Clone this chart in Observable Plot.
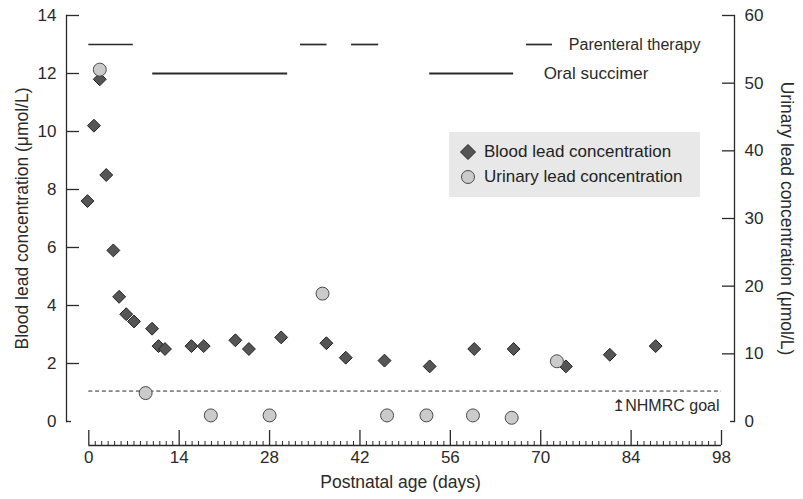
<!DOCTYPE html>
<html><head><meta charset="utf-8">
<script src="https://cdn.jsdelivr.net/npm/d3@7"></script>
<script src="https://cdn.jsdelivr.net/npm/@observablehq/plot@0.6"></script>
<style>
body{margin:0;background:#fff;font-family:"Liberation Sans",Arial,Helvetica,sans-serif;}
#wrap{position:relative;width:803px;height:499px;}
#legend{position:absolute;left:449px;top:132px;width:251px;height:65px;background:#e8e8e8;font-size:17px;color:#222;}
#legend .row{position:absolute;left:10px;height:20px;display:flex;align-items:center;white-space:nowrap;}
#legend svg{margin-right:7px;}
</style></head><body><div id="wrap"></div>
<script>
// ---- data ----
const bloodDays = [-0.2, 0.8, 1.7, 2.7, 3.8, 4.7, 5.8, 7.0, 9.8, 10.8, 11.8, 15.9, 17.8, 22.7, 24.8, 29.8, 36.8, 39.8, 45.8, 52.8, 59.7, 65.8, 73.9, 80.7, 87.8];
const bloodLead = [7.6, 10.2, 11.8, 8.5, 5.9, 4.3, 3.7, 3.45, 3.2, 2.6, 2.5, 2.6, 2.6, 2.8, 2.5, 2.9, 2.7, 2.2, 2.1, 1.9, 2.5, 2.5, 1.9, 2.3, 2.6];
const urineDays = [1.7, 8.8, 18.9, 28.0, 36.2, 46.2, 52.3, 59.5, 65.5, 72.5];
const urineLead = [52.0, 4.2, 0.9, 0.9, 18.9, 0.9, 0.9, 0.9, 0.55, 8.9];
const parenteralStart = [0, 32.8, 40.7];
const parenteralEnd = [6.9, 36.9, 44.9];
const oralStart = [9.9, 52.8];
const oralEnd = [30.8, 65.8];
const parenteralLevel = 13;
const oralLevel = 12;
const nhmrcGoal = 1.05;
const xDomain = [0, 98];
const xMajorTicks = [0, 14, 28, 42, 56, 70, 84, 98];
const xMinorTicks = d3.range(0, 99).filter(d => d % 14 !== 0);
const leftTicks = [0, 2, 4, 6, 8, 10, 12, 14];
const rightTicks = [0, 10, 20, 30, 40, 50, 60];
const leftMax = 14, rightMax = 60;
const toLeft = v => v * leftMax / rightMax;

const blood = bloodDays.map((d, i) => ({day: d, value: bloodLead[i]}));
const urine = urineDays.map((d, i) => ({day: d, value: urineLead[i]}));
const parenteral = parenteralStart.map((s, i) => ({start: s, end: parenteralEnd[i]}));
const oral = oralStart.map((s, i) => ({start: s, end: oralEnd[i]}));

const W = 803, H = 499, mL = 66, mR = 69, mT = 15, mB = 78;
const frameW = W - mL - mR;
const ink = "#2a2a2a";
const font = '"Liberation Sans", Arial, Helvetica, sans-serif';

const chart = Plot.plot({
  width: W, height: H,
  marginLeft: mL, marginRight: mR, marginTop: mT, marginBottom: mB,
  style: {fontFamily: font, fontSize: "17px", color: ink, background: "#fff", overflow: "visible"},
  x: {domain: xDomain, range: [88.3, 721], axis: null},
  y: {domain: [0, leftMax]},
  marks: [
    // y axes lines
    Plot.frame({anchor: "left", stroke: ink, strokeWidth: 1.3}),
    Plot.frame({anchor: "right", stroke: ink, strokeWidth: 1.3}),
    // inward ticks
    Plot.tickY(leftTicks.filter(d => d > 0), {y: d => d, insetRight: frameW - 13, stroke: ink, strokeWidth: 1.3}),
    Plot.tickY(leftTicks.filter(d => d === 0), {y: d => d, insetRight: frameW - 5, stroke: ink, strokeWidth: 1.3}),
    Plot.tickY(rightTicks.filter(d => d > 0), {y: d => toLeft(d), insetLeft: frameW - 12, stroke: ink, strokeWidth: 1.3}),
    Plot.tickY(rightTicks.filter(d => d === 0), {y: d => toLeft(d), insetLeft: frameW - 4, stroke: ink, strokeWidth: 1.3}),
    Plot.axisY(leftTicks, {anchor: "left", tickSize: 0, tickPadding: 10, label: null, fontSize: 17}),
    Plot.axisY(rightTicks.map(toLeft), {anchor: "right", tickSize: 0, tickPadding: 10, label: null, fontSize: 17,
      tickFormat: d => Math.round(d * rightMax / leftMax)}),
    // detached x axis
    Plot.ruleY([0], {x1: xDomain[0], x2: xDomain[1], dy: 24, stroke: ink, strokeWidth: 1.3}),
    Plot.tickX(xMajorTicks, {x: d => d, insetTop: 391, dy: 24, stroke: ink, strokeWidth: 1.3}),
    Plot.tickX(xMinorTicks, {x: d => d, insetTop: 402, dy: 24, stroke: ink, strokeWidth: 1}),
    Plot.text(xMajorTicks, {x: d => d, frameAnchor: "bottom", dy: 41, text: d => String(d), fontSize: 17, fill: ink}),
    // axis titles
    Plot.text(["Postnatal age (days)"], {frameAnchor: "bottom", dy: 66, fontSize: 17.5, fill: ink}),
    Plot.text(["Blood lead concentration (\u03bcmol/L)"], {frameAnchor: "left", textAnchor: "middle", dx: -44, rotate: -90, fontSize: 17.5, fill: ink}),
    Plot.text(["Urinary lead concentration (\u03bcmol/L)"], {frameAnchor: "right", textAnchor: "middle", dx: 52, rotate: 90, fontSize: 17.5, fill: ink}),
    // treatment periods
    Plot.ruleY(parenteral, {x1: "start", x2: "end", y: () => parenteralLevel, stroke: ink, strokeWidth: 1.7}),
    Plot.ruleY(oral, {x1: "start", x2: "end", y: () => oralLevel, stroke: ink, strokeWidth: 1.8}),
    Plot.ruleY([parenteralLevel], {insetLeft: 460, insetRight: 182, stroke: ink, strokeWidth: 1.7}),
    Plot.text(["Parenteral therapy"], {y: () => parenteralLevel, frameAnchor: "right", textAnchor: "end", dx: -34, fontSize: 16, fill: ink}),
    Plot.text(["Oral succimer"], {y: () => oralLevel, frameAnchor: "right", textAnchor: "end", dx: -86, fontSize: 17, fill: ink}),
    // NHMRC goal
    Plot.ruleY([nhmrcGoal], {x1: xDomain[0], x2: xDomain[1], stroke: ink, strokeWidth: 1, strokeDasharray: "4,2.8"}),
    Plot.text([nhmrcGoal], {y: d => d, frameAnchor: "right", textAnchor: "end", dx: -15, dy: 15, text: () => "\u21a5NHMRC goal", fontSize: 16, fill: ink}),
    // data
    Plot.dot(blood, {x: "day", y: "value", symbol: "diamond2", r: 5.8, fill: "#555", stroke: "#222", strokeWidth: 1}),
    Plot.dot(urine, {x: "day", y: d => toLeft(d.value), r: 6.5, fill: "#cbcbcb", stroke: "#4a4a4a", strokeWidth: 1})
  ]
});

const wrap = document.getElementById("wrap");
wrap.appendChild(chart);
const legend = document.createElement("div");
legend.id = "legend";
legend.innerHTML =
  '<div class="row" style="top:10px"><svg width="18" height="18" viewBox="-9 -9 18 18"><path d="M0,-7.5L7.5,0L0,7.5L-7.5,0Z" fill="#555" stroke="#222"/></svg>Blood lead concentration</div>' +
  '<div class="row" style="top:35px"><svg width="18" height="18" viewBox="-9 -9 18 18"><circle r="6.5" fill="#cbcbcb" stroke="#4a4a4a"/></svg>Urinary lead concentration</div>';
wrap.appendChild(legend);
</script></body></html>
